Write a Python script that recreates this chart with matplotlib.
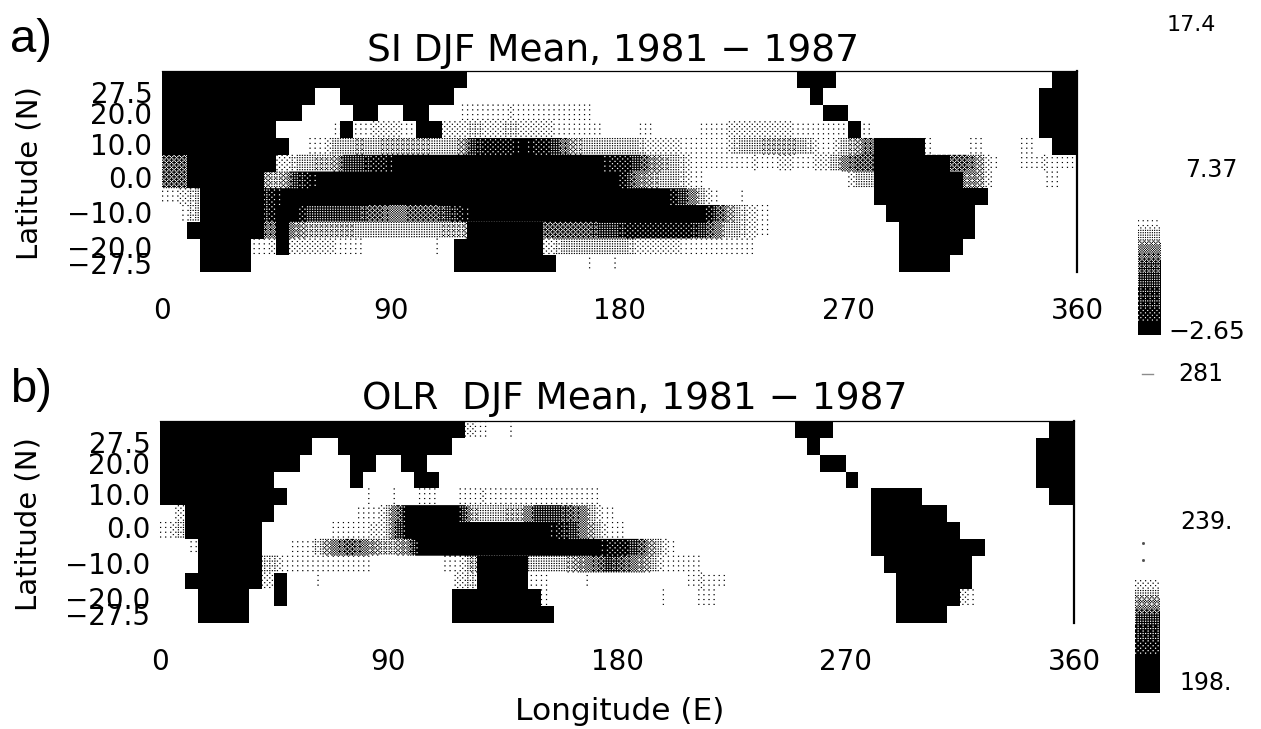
# %%
import numpy as np
import matplotlib
matplotlib.use('Agg')
from matplotlib import pyplot as plt

W, H = 1261, 729

# shade per 5x5 deg cell: 0 white .. 9 black, # land
# row 0 is 25-30N, row 11 is 25-30S, columns in groups of 30 deg
si_rows = [
    "###### ###### ###### ###### 000000 000000 000000 000000 00###0 000000 000000 0000##",
    "###### ###### 00#### #####0 000000 000000 000000 000000 000#00 000000 000000 000###",
    "###### #####0 000##0 0##001 111211 111100 000000 000000 0000## 000000 000000 000###",
    "###### ###000 01#122 21##22 322322 211110 011000 112222 221111 #10000 000000 000###",
    "###### ####01 133434 444334 788898 864333 332221 112334 443213 46#### 100110 0110##",
    "66#### ###233 447788 999999 999999 999998 875432 111121 221225 66#### ##6641 011211",
    "66#### ##4478 999999 999999 999999 999999 854332 100000 000000 33#### ###540 000110",
    "123### ##8999 999999 999999 999999 999999 999986 310100 000000 00#### #####0 000000",
    "013### ##8#97 777766 566678 999999 999999 999999 975321 000000 000### ####00 000000",
    "00#### ##6#54 444333 333344 ###### 666677 888888 763321 000000 0000## ####00 000000",
    "000### #12#22 221100 00010# ###### 233333 322221 111110 000000 0000## ###000 000000",
    "000### #00000 000000 00000# ###### #00101 000000 000000 000000 0000## ##0000 000000",
]
olr_rows = [
    "###### ###### ###### ###### 210100 000000 000000 000000 00###0 000000 000000 0000##",
    "###### ###### 00#### #####0 000000 000000 000000 000000 000#00 000000 000000 000###",
    "###### #####0 000##0 0##000 000000 000000 000000 000000 0000## 000000 000000 000###",
    "###### ###000 000#00 00##00 000000 000000 000000 000000 000000 #00000 000000 000###",
    "###### ####00 000010 101101 121111 111110 000000 000000 000000 00#### 000000 0000##",
    "02#### ###000 000112 599999 433447 776521 000000 000000 000000 00#### ##0000 000000",
    "13#### ##0000 011122 699999 999999 987531 100000 000000 000000 00#### ###000 000000",
    "001### ##0011 356654 459999 999999 999998 875310 000000 000000 00#### #####0 000000",
    "000### ##3211 111110 000011 4####3 334567 654211 100000 000000 000### ####00 000000",
    "00#### ##2#00 100000 000002 3####1 100100 000001 211000 000000 0000## ####00 000000",
    "000### #00#00 000000 00000# ###### 100000 000100 110000 000000 0000## ###200 000000",
    "000### #00000 000000 00000# ###### #00000 000000 000000 000000 0000## ##0000 000000",
]

level_darkness = [0, 0.04, 0.11, 0.22, 0.34, 0.47, 0.60, 0.74, 0.87, 1.0]

xticks = [0, 90, 180, 270, 360]
# the labels in the figure do not sit at their true latitude
ylabels = ['27.5', '20.0', '10.0', '0.0', '\u221210.0', '\u221220.0', '\u221227.5']
ytick_pos = [23.7, 17.5, 8.2, -1.6, -12.1, -22.5, -27.3]

cbar_a_vals = [-2.65, -1.9, -1.8, 0, 2, 3.0, 3.7, 4.2, 4.85, 4.9, 17.4]
cbar_a_levels = [9, 9, 8, 7.5, 6.5, 5, 3.5, 2.5, 1, 0, 0]
cbar_b_vals = [198, 208, 209, 214, 218, 221, 224, 228, 228.5, 281]
cbar_b_levels = [9, 9, 8, 7.5, 7, 5, 3, 1.5, 0, 0]
cbar_b_dots = [232.6, 237.0]

BAYER = np.array([[0, 8, 2, 10], [12, 4, 14, 6], [3, 11, 1, 9], [15, 7, 13, 5]]) / 16 + 1 / 32


def to_px(fig_ax_rect):
    x0, y0, x1, y1 = fig_ax_rect
    return [x0 / W, 1 - y1 / H, (x1 - x0) / W, (y1 - y0) / H]


def dither(dark):
    ny, nx = dark.shape
    tile = np.tile(BAYER, (ny // 4 + 1, nx // 4 + 1))[:ny, :nx]
    return dark > tile


def draw_map(ax, rows):
    rows = [r.replace(' ', '') for r in rows]
    assert all(len(r) == 72 for r in rows)

    lon = np.arange(72) * 5 + 2.5
    lon_fine = (np.arange(720) + 0.5) / 2
    dark = []
    land = []
    for r in rows:
        is_land = np.array([c == '#' for c in r])
        lev = np.array([0 if c == '#' else int(c) for c in r], dtype=float)
        lev_fine = np.interp(lon_fine, lon[~is_land], lev[~is_land])
        dark.append(np.interp(lev_fine, np.arange(10), level_darkness))
        land.append(is_land)
    dark = np.repeat(np.array(dark), 14, axis=0)

    ax.imshow(dither(dark), cmap='gray_r', vmin=0, vmax=1, extent=[0, 360, -30, 30],
              aspect='auto', interpolation='antialiased', zorder=1)

    lon_edges = np.arange(73) * 5
    lat_edges = 30 - np.arange(13) * 5
    ax.pcolormesh(lon_edges, lat_edges, np.ma.masked_where(~np.array(land), np.array(land, dtype=float)),
                  cmap='gray_r', vmin=0, vmax=1, zorder=2, linewidth=0)

    ax.set_xlim(0, 360)
    ax.set_ylim(-30, 30)
    ax.set_xticks(xticks, [str(v) for v in xticks])
    ax.set_yticks(ytick_pos, ylabels)
    ax.tick_params(axis='x', length=0, pad=18, labelsize=20)
    ax.tick_params(axis='y', length=0, pad=7, labelsize=20)
    for side in ['left', 'bottom']:
        ax.spines[side].set_visible(False)
    ax.spines['top'].set_linewidth(0.9)
    ax.spines['right'].set_linewidth(1.6)
    ax.spines['top'].set_zorder(3)
    ax.spines['right'].set_zorder(3)


def draw_cbar(ax, vals, levels):
    v_fine = np.linspace(vals[0], vals[-1], 260)[::-1]
    dark = np.interp(np.interp(v_fine, vals, levels), np.arange(10), level_darkness)
    dark = np.repeat(dark[:, None], 20, axis=1)
    ax.imshow(dither(dark), cmap='gray_r', vmin=0, vmax=1,
              extent=[0, 1, vals[0], vals[-1]], aspect='auto', interpolation='antialiased')
    ax.set_ylim(vals[0], vals[-1])
    ax.set_xlim(0, 1)
    ax.axis('off')


def label(x, y, s, size, **kw):
    kw.setdefault('ha', 'center')
    fig.text(x / W, 1 - y / H, s, fontsize=size, va='center', **kw)


fig = plt.figure(figsize=(W / 100, H / 100), dpi=100)

# %% maps
ax_a = fig.add_axes(to_px([162, 71, 1077, 272]))
draw_map(ax_a, si_rows)
ax_a.set_ylabel('Latitude (N)', fontsize=21)
ax_a.yaxis.set_label_coords((44 - 162) / 915, 0.49)

ax_b = fig.add_axes(to_px([160, 421, 1074, 623]))
draw_map(ax_b, olr_rows)
ax_b.set_ylabel('Latitude (N)', fontsize=21)
ax_b.yaxis.set_label_coords((42 - 160) / 914, 0.49)

# %% colour bars
cax_a = fig.add_axes(to_px([1138, 25, 1161, 335]))
draw_cbar(cax_a, cbar_a_vals, cbar_a_levels)

cax_b = fig.add_axes(to_px([1135, 374, 1160, 693]))
draw_cbar(cax_b, cbar_b_vals, cbar_b_levels)
cax_b.plot([0.28, 0.72], [281, 281], color='0.55', lw=1, clip_on=False)
cax_b.plot([0.3, 0.3], cbar_b_dots, ls='none', marker='s', ms=1, color='0.3')

# %% text
label(613, 51, 'SI DJF Mean, 1981 \u2212 1987', 27)
label(635, 399, 'OLR  DJF Mean, 1981 \u2212 1987', 27)
label(620, 712, 'Longitude (E)', 22.5)
label(10, 40, 'a)', 34, ha='left', family='Liberation Sans')
label(10, 390, 'b)', 34, ha='left', family='Liberation Sans')

label(1191, 25, '17.4', 16)
label(1211, 170, '7.37', 17)
label(1207, 332, '\u22122.65', 18)
label(1201, 374, '281', 17)
label(1206, 522, '239.', 17)
label(1206, 683, '198.', 17)

fig.savefig('out.png', dpi=100, facecolor='white')
